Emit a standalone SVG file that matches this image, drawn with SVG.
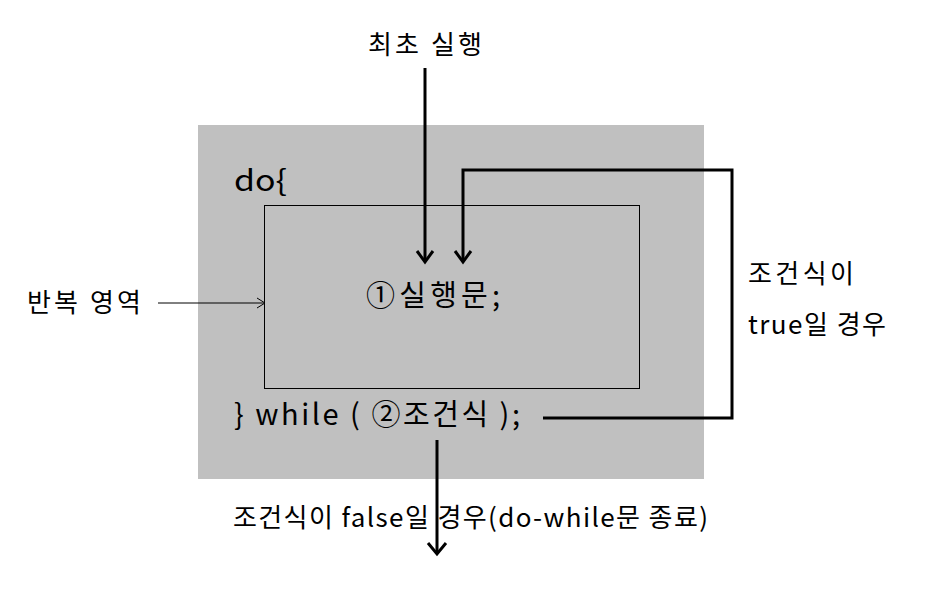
<svg xmlns="http://www.w3.org/2000/svg" width="929" height="607" viewBox="0 0 929 607">
<defs>
<style>
text{font-family:"Noto Sans CJK KR","Noto Sans",sans-serif;fill:#000}
.t24{font-size:26px}
.t26{font-size:29px}
.thick{fill:none;stroke:#000;stroke-width:3}
.thin{fill:none;stroke:#000;stroke-width:1}
</style>
</defs>
<rect x="0" y="0" width="929" height="607" fill="#fff"/>
<g id="loop-area">
<rect x="198" y="125" width="506" height="354" fill="#c0c0c0"/>
<text class="t26" x="234" y="191" textLength="53" lengthAdjust="spacingAndGlyphs">do{</text>
<text class="t26" x="234" y="425" textLength="286" lengthAdjust="spacing">} while ( ②조건식 );</text>
</g>
<g id="body">
<rect x="264.5" y="205.5" width="375" height="183" fill="none" stroke="#000" stroke-width="1"/>
<text class="t26" x="366" y="306" textLength="134" lengthAdjust="spacing">①실행문;</text>
</g>
<g id="label-start"><text class="t24" x="368" y="54" textLength="114" lengthAdjust="spacing">최초 실행</text></g>
<g id="label-area"><text class="t24" x="27" y="312" textLength="114" lengthAdjust="spacing">반복 영역</text></g>
<g id="label-true"><text class="t24" x="748" y="283" textLength="106" lengthAdjust="spacing">조건식이</text><text class="t24" x="748" y="334" textLength="138" lengthAdjust="spacing">true일 경우</text></g>
<g id="label-false"><text class="t24" x="233" y="527" textLength="475" lengthAdjust="spacing">조건식이 false일 경우(do-while문 종료)</text></g>
<g id="connectors">
<path class="thick" d="M425,68 V261"/>
<path d="M417,251 L425,262 L433,251" class="thick"/>
<path class="thick" d="M543,418 H732 V170 H463 V261"/>
<path d="M455,251 L463,262 L471,251" class="thick"/>
<path class="thick" d="M437,440 V554"/>
<path d="M428,543 L437,554 L446,543" class="thick"/>
<path class="thin" d="M158,303 H265"/>
<path class="thin" d="M257,298 L265,303 L257,308"/>
</g>
</svg>
